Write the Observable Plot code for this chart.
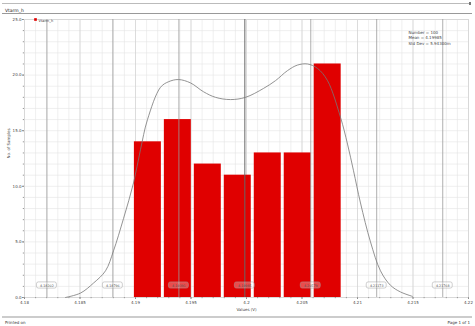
<!DOCTYPE html>
<html><head><meta charset="utf-8">
<script src="https://cdn.jsdelivr.net/npm/d3@7"></script>
<script src="https://cdn.jsdelivr.net/npm/@observablehq/plot@0.6"></script>
<style>
body{margin:0;width:475px;height:326px;overflow:hidden;font-family:"DejaVu Sans",sans-serif;background:#fff;color:#333}
#hdr{position:relative;height:16px}
#hdr .l1{position:absolute;left:2px;top:3px;width:468px;height:1px;background:#bbb}
#hdr .m{position:absolute;left:469px;top:2px;width:2px;height:3px;background:#777}
#hdr .t{position:absolute;left:5px;top:8px;font-size:4.5px;line-height:5px;color:#222}
#hdr .l2{position:absolute;left:2px;top:13px;width:470px;height:1px;background:#999}
#chart{height:298px}
#chart svg{display:block}
#ftr{position:relative;height:12px}
#ftr .l{position:absolute;left:2px;top:2px;width:470px;height:2px;background:#ccc}
#ftr .a{position:absolute;left:5px;top:6px;font-size:4px;line-height:5px}
#ftr .b{position:absolute;right:5px;top:6px;font-size:4px;line-height:5px}
</style></head><body>
<div id="hdr"><div class="l1"></div><div class="m"></div><div class="t">Vtarm_h</div><div class="l2"></div></div>
<div id="chart"></div>
<div id="ftr"><div class="l"></div><div class="a">Printed on</div><div class="b">Page 1 of 1</div></div>
<script>
const seriesName = "Vtarm_h";
const binEdges = [4.1899, 4.1926, 4.1953, 4.1980, 4.2007, 4.2034, 4.2061, 4.2088];
const counts = [14, 16, 12, 11, 13, 13, 21];
const curveX = [4.18369, 4.18505, 4.18622, 4.18730, 4.18802, 4.18892, 4.18982, 4.19045, 4.19108, 4.19225, 4.19297, 4.19387, 4.19495, 4.19613, 4.19721, 4.19856, 4.19991, 4.20153, 4.20261, 4.20369, 4.20459, 4.20550, 4.20640, 4.20730, 4.20847, 4.20910, 4.20964, 4.21027, 4.21117, 4.21207, 4.21297, 4.21387, 4.21495];
const curveY = [0.0, 0.4, 1.3, 2.4, 4.2, 7.1, 10.3, 13.3, 16.0, 18.9, 19.4, 19.6, 19.3, 18.5, 18.0, 17.8, 18.0, 18.8, 19.5, 20.4, 20.9, 21.0, 20.6, 19.5, 16.2, 13.8, 11.4, 8.5, 5.0, 2.4, 1.1, 0.5, 0.1];
const sigmaValues = [4.18202, 4.18796, 4.19391, 4.19985, 4.20579, 4.21173, 4.21768];
const sigmaLabels = ["4.18202", "4.18796", "4.19391", "4.19985", "4.20579", "4.21173", "4.21768"];
const xTicks = [4.18, 4.185, 4.19, 4.195, 4.2, 4.205, 4.21, 4.215, 4.22];
const xTickLabels = ["4.18", "4.185", "4.19", "4.195", "4.2", "4.205", "4.21", "4.215", "4.22"];
const yTicks = [0, 5, 10, 15, 20, 25];
const yTickLabels = ["0.0", "5.0", "10.0", "15.0", "20.0", "25.0"];
const statsLines = ["Number = 100", "Mean = 4.19985", "Std Dev = 5.94300m"];
const xLabel = "Values (V)";
const yLabel = "No. of Samples";

const bars = counts.map((c, i) => ({x1: binEdges[i], x2: binEdges[i + 1], count: c}));
const curve = curveX.map((x, i) => ({x, y: curveY[i]}));
const sigmas = sigmaValues.map((v, i) => ({v, label: sigmaLabels[i], mean: i === 3}));
const minorX = d3.range(0, 41).map(i => 4.18 + i * 0.001);
const minorY = d3.range(0, 26);
const red = "#e00000";

const chart = Plot.plot({
  width: 475, height: 298,
  marginLeft: 24, marginRight: 7, marginTop: 3, marginBottom: 17,
  x: {domain: [4.18, 4.22]},
  y: {domain: [0, 25]},
  style: {fontFamily: "DejaVu Sans, sans-serif", color: "#444", background: "#fff"},
  marks: [
    Plot.gridX(minorX, {stroke: "#e4e4e4", strokeOpacity: 1, strokeWidth: 0.6}),
    Plot.gridY(minorY, {stroke: "#e4e4e4", strokeOpacity: 1, strokeWidth: 0.6}),
    Plot.gridX(xTicks, {stroke: "#cfcfcf", strokeOpacity: 1, strokeWidth: 0.6}),
    Plot.frame({stroke: "#d8d8d8"}),
    Plot.rectY(bars, {x1: "x1", x2: "x2", y: "count", fill: red, insetRight: 3}),
    Plot.ruleX(sigmas.filter(d => !d.mean), {x: "v", stroke: "#9a9a9a", strokeWidth: 0.8}),
    Plot.ruleX(sigmas.filter(d => d.mean), {x: "v", stroke: "#666", strokeWidth: 1}),
    Plot.line(curve, {x: "x", y: "y", stroke: "#777", strokeWidth: 0.8, curve: "catmull-rom"}),
    Plot.rect(sigmas, {x1: d => d.v - 0.0009, x2: d => d.v + 0.0009, y1: 0.8, y2: 1.36, rx: 2, fill: "#ffffff", fillOpacity: 0.3, stroke: "#a0a0a0", strokeWidth: 0.5}),
    Plot.text(sigmas, {x: "v", y: 1.08, text: "label", fontSize: 3.3, fill: "#555"}),
    Plot.axisX(xTicks, {tickFormat: (d, i) => xTickLabels[i], tickSize: 2, tickPadding: 2, fontSize: 4, label: null, stroke: "#888"}),
    Plot.axisX(minorX, {tickSize: 1.2, text: null, label: null, stroke: "#999"}),
    Plot.axisY(yTicks, {tickFormat: (d, i) => yTickLabels[i], tickSize: 2, tickPadding: 1, fontSize: 4, label: null, stroke: "#888"}),
    Plot.axisY(minorY, {tickSize: 1.2, text: null, label: null, stroke: "#999"}),
    Plot.text([xLabel], {frameAnchor: "bottom", dy: 13, fontSize: 4, fill: "#444"}),
    Plot.text([yLabel], {frameAnchor: "left", dx: -16, rotate: -90, fontSize: 4, fill: "#444"}),
    Plot.dot([seriesName], {frameAnchor: "top-left", dx: 11, dy: 0, symbol: "square", r: 1.5, fill: red}),
    Plot.text([seriesName], {frameAnchor: "top-left", dx: 14, dy: 0, textAnchor: "start", fontSize: 3.5, fill: "#444"}),
    Plot.text([statsLines.join("\n")], {frameAnchor: "top-right", dx: -60, dy: 10, textAnchor: "start", lineAnchor: "top", lineHeight: 1.45, fontSize: 4, fill: "#444"})
  ]
});
document.getElementById("chart").appendChild(chart);
</script>
</body></html>
